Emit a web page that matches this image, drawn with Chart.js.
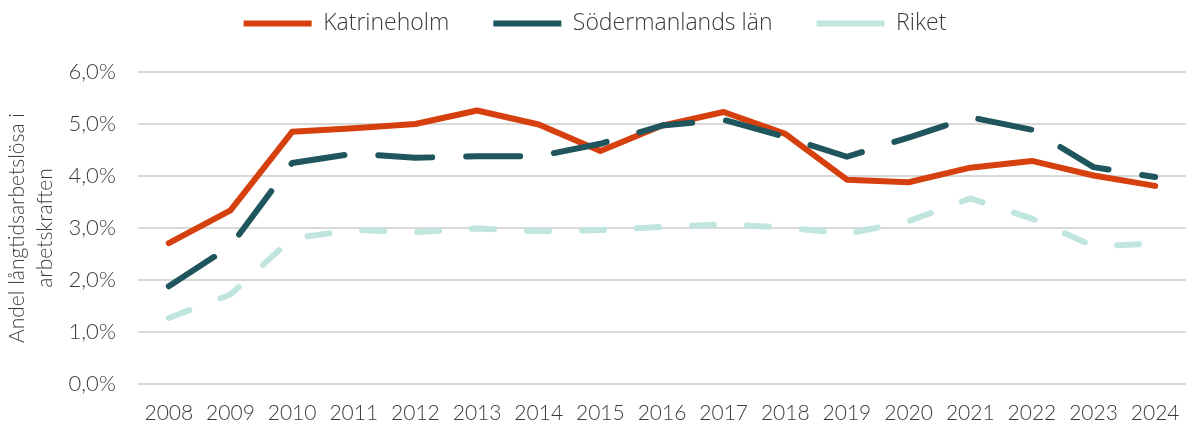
<!DOCTYPE html>
<html lang="sv">
<head>
<meta charset="utf-8">
<title>Långtidsarbetslöshet</title>
<script src="https://cdn.jsdelivr.net/npm/chart.js@4.4.1/dist/chart.umd.min.js"></script>
<style>
    html, body { margin: 0; padding: 0; background: #fff; }
    #wrap { width: 1186px; height: 423px; }
</style>
</head>
<body>
<div id="wrap"><canvas id="grafLangtid"></canvas></div>
<script>
// År på x-axeln
const ar = ['2008', '2009', '2010', '2011', '2012', '2013', '2014', '2015', '2016',
    '2017', '2018', '2019', '2020', '2021', '2022', '2023', '2024'];

// Andel långtidsarbetslösa (%)
const katrineholm = [2.71, 3.34, 4.85, 4.92, 5.00, 5.26, 4.99, 4.48, 4.97, 5.23, 4.81, 3.93, 3.88, 4.16, 4.29, 4.01, 3.81];
const sodermanland = [1.88, 2.65, 4.25, 4.43, 4.35, 4.38, 4.38, 4.62, 4.97, 5.08, 4.75, 4.37, 4.74, 5.13, 4.89, 4.17, 3.98];
const riket = [1.27, 1.72, 2.80, 2.96, 2.92, 2.99, 2.94, 2.96, 3.02, 3.07, 3.01, 2.89, 3.13, 3.57, 3.18, 2.65, 2.70];

const yTicks = [0, 1, 2, 3, 4, 5, 6];

const textFarg = '#3b3b3b';
const typsnitt = "'Lato', 'Open Sans', sans-serif";

// Legenden behöver stort avstånd i sidled men lite i höjdled
const legendAvstand = {
    id: 'legendAvstand',
    beforeInit(chart) {
        const fit = chart.legend.fit;
        chart.legend.fit = function () {
            fit.call(this);
            this.height = 72;
        };
    },
    afterLayout(chart) {
        chart.legend.top = -32;
    },
};

const ctx = document.getElementById('grafLangtid').getContext('2d');

new Chart(ctx, {
    type: 'line',
    data: {
        labels: ar,
        datasets: [
            {
                label: 'Katrineholm',
                data: katrineholm,
                borderColor: '#d6400f',
                backgroundColor: '#d6400f',
                borderWidth: 6,
                order: 1,
            },
            {
                label: 'Södermanlands län',
                data: sodermanland,
                borderColor: '#1f555d',
                backgroundColor: '#1f555d',
                borderWidth: 6,
                borderDash: [54, 34],
                order: 0,
            },
            {
                label: 'Riket',
                data: riket,
                borderColor: '#c0e5df',
                backgroundColor: '#c0e5df',
                borderWidth: 6,
                borderDash: [22, 33],
                order: 2,
            },
        ],
    },
    plugins: [legendAvstand],
    options: {
        responsive: true,
        maintainAspectRatio: false,
        animation: false,
        layout: { padding: { left: 0, right: -4, top: 0, bottom: 0 } },
        elements: {
            point: { radius: 0, hoverRadius: 0 },
            line: { tension: 0, borderCapStyle: 'round', borderJoinStyle: 'round', fill: false },
        },
        plugins: {
            legend: {
                position: 'top',
                labels: {
                    usePointStyle: true,
                    pointStyle: 'line',
                    pointStyleWidth: 68,
                    boxHeight: 6,
                    padding: 44,
                    color: textFarg,
                    font: { family: "'Open Sans', 'Lato', sans-serif", size: 23, weight: '300' },
                    sort: (a, b) => a.datasetIndex - b.datasetIndex,
                },
            },
            tooltip: { enabled: false },
        },
        scales: {
            x: {
                offset: true,
                afterFit(scale) {
                    scale.height = 39;
                    scale.paddingLeft = 0;
                    scale.paddingRight = 0;
                },
                grid: { display: false, drawTicks: false },
                border: { display: false },
                ticks: {
                    color: textFarg,
                    padding: 17,
                    maxRotation: 0,
                    autoSkip: false,
                    font: { family: typsnitt, size: 21, weight: '300' },
                },
            },
            y: {
                min: 0,
                max: 6,
                afterFit(scale) {
                    scale.width = 138;
                },
                afterBuildTicks(scale) {
                    scale.ticks = yTicks.map(v => ({ value: v }));
                },
                grid: { color: '#d9d9d9', lineWidth: 2, drawTicks: false },
                border: { display: false },
                ticks: {
                    color: textFarg,
                    padding: 22,
                    font: { family: typsnitt, size: 22, weight: '300' },
                    callback: v => v.toFixed(1).replace('.', ',') + '%',
                },
                title: {
                    display: true,
                    text: ['Andel långtidsarbetslösa i', 'arbetskraften'],
                    color: textFarg,
                    padding: { top: 4, bottom: 4 },
                    font: { family: typsnitt, size: 21, weight: '300', lineHeight: 1.3 },
                },
            },
        },
    },
});
</script>
</body>
</html>
